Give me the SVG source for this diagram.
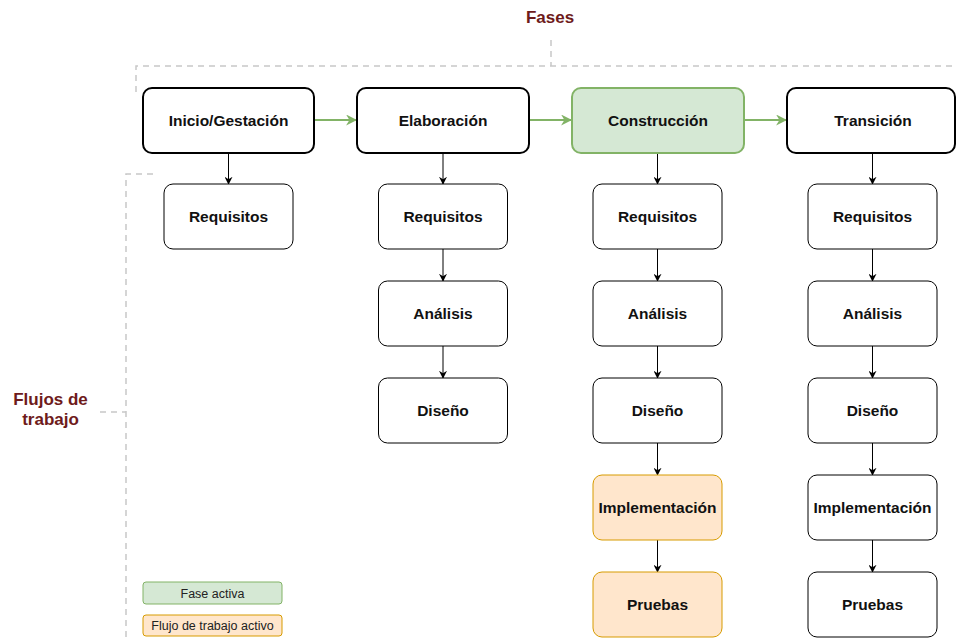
<svg xmlns="http://www.w3.org/2000/svg" width="956" height="639" viewBox="0 0 956 639">
<defs>
<style>
.ph{fill:#fff;stroke:#000;stroke-width:2}
.wf{fill:#fff;stroke:#000;stroke-width:1}
.act{fill:#d5e8d4;stroke:#82b366;stroke-width:2}
.wact{fill:#ffe6cc;stroke:#d79b00;stroke-width:1}
.t{font-family:"Liberation Sans",Arial,sans-serif;font-weight:bold;font-size:15.5px;fill:#111;text-anchor:middle}
.lbl{font-family:"Liberation Sans",Arial,sans-serif;font-weight:bold;font-size:17px;fill:#6e1b1b;text-anchor:middle}
.lg{font-family:"Liberation Sans",Arial,sans-serif;font-size:12.5px;fill:#222;text-anchor:middle}
.dash{fill:none;stroke:#c8c8c8;stroke-width:1.5;stroke-dasharray:6 5}
.blk{fill:none;stroke:#000;stroke-width:1;marker-end:url(#ab)}
.grn{fill:none;stroke:#82b366;stroke-width:2;marker-end:url(#ag)}
</style>
<marker id="ab" viewBox="0 0 10 10" refX="9" refY="5" markerWidth="8" markerHeight="8" markerUnits="userSpaceOnUse" orient="auto"><path d="M0,0 L10,5 L0,10 L3,5 Z" fill="#000"/></marker>
<marker id="ag" viewBox="0 0 10 10" refX="9" refY="5" markerWidth="11" markerHeight="11" markerUnits="userSpaceOnUse" orient="auto"><path d="M0,0 L10,5 L0,10 L3,5 Z" fill="#82b366"/></marker>
</defs>
<rect width="956" height="639" fill="#fff"/>
<g id="guides">
<path class="dash" d="M136,92 V66 H956 M551,40 V66"/>
<path class="dash" d="M153,174 H126 V639 M100,412 H126"/>
</g>
<g id="labels">
<text class="lbl" x="550" y="23">Fases</text>
<text class="lbl" x="50.5" y="405">Flujos de</text>
<text class="lbl" x="50.5" y="425">trabajo</text>
</g>
<g id="connectors">
<path class="grn" d="M314,120 H356"/>
<path class="grn" d="M530,120 H571"/>
<path class="grn" d="M744,120 H786"/>
<path class="blk" d="M228.5,153 V184"/>
<path class="blk" d="M443,153 V184"/>
<path class="blk" d="M443,249 V281"/>
<path class="blk" d="M443,346 V378"/>
<path class="blk" d="M657.5,153 V184"/>
<path class="blk" d="M657.5,249 V281"/>
<path class="blk" d="M657.5,346 V378"/>
<path class="blk" d="M657.5,443 V475"/>
<path class="blk" d="M657.5,540 V572"/>
<path class="blk" d="M872.5,153 V184"/>
<path class="blk" d="M872.5,249 V281"/>
<path class="blk" d="M872.5,346 V378"/>
<path class="blk" d="M872.5,443 V475"/>
<path class="blk" d="M872.5,540 V572"/>
</g>
<g id="p1"><rect class="ph" x="143" y="88" width="171" height="65" rx="9"/><text class="t" x="228.5" y="126">Inicio/Gestación</text></g>
<g id="p2"><rect class="ph" x="357" y="88" width="172" height="65" rx="9"/><text class="t" x="443" y="126">Elaboración</text></g>
<g id="p3"><rect class="act" x="572" y="88" width="172" height="65" rx="9"/><text class="t" x="658" y="126">Construcción</text></g>
<g id="p4"><rect class="ph" x="787" y="88" width="168" height="65" rx="9"/><text class="t" x="873" y="126">Transición</text></g>

<g id="c1r"><rect class="wf" x="164" y="184" width="129" height="65" rx="9"/><text class="t" x="228.5" y="222">Requisitos</text></g>

<g id="c2r"><rect class="wf" x="378.5" y="184" width="129" height="65" rx="9"/><text class="t" x="443" y="222">Requisitos</text></g>
<g id="c2a"><rect class="wf" x="378.5" y="281" width="129" height="65" rx="9"/><text class="t" x="443" y="319">Análisis</text></g>
<g id="c2d"><rect class="wf" x="378.5" y="378" width="129" height="65" rx="9"/><text class="t" x="443" y="416">Diseño</text></g>

<g id="c3r"><rect class="wf" x="593" y="184" width="129" height="65" rx="9"/><text class="t" x="657.5" y="222">Requisitos</text></g>
<g id="c3a"><rect class="wf" x="593" y="281" width="129" height="65" rx="9"/><text class="t" x="657.5" y="319">Análisis</text></g>
<g id="c3d"><rect class="wf" x="593" y="378" width="129" height="65" rx="9"/><text class="t" x="657.5" y="416">Diseño</text></g>
<g id="c3i"><rect class="wact" x="593" y="475" width="129" height="65" rx="9"/><text class="t" x="657.5" y="513">Implementación</text></g>
<g id="c3p"><rect class="wact" x="593" y="572" width="129" height="65" rx="9"/><text class="t" x="657.5" y="610">Pruebas</text></g>

<g id="c4r"><rect class="wf" x="808" y="184" width="129" height="65" rx="9"/><text class="t" x="872.5" y="222">Requisitos</text></g>
<g id="c4a"><rect class="wf" x="808" y="281" width="129" height="65" rx="9"/><text class="t" x="872.5" y="319">Análisis</text></g>
<g id="c4d"><rect class="wf" x="808" y="378" width="129" height="65" rx="9"/><text class="t" x="872.5" y="416">Diseño</text></g>
<g id="c4i"><rect class="wf" x="808" y="475" width="129" height="65" rx="9"/><text class="t" x="872.5" y="513">Implementación</text></g>
<g id="c4p"><rect class="wf" x="808" y="572" width="129" height="65" rx="9"/><text class="t" x="872.5" y="610">Pruebas</text></g>

<g id="legend1"><rect fill="#d5e8d4" stroke="#82b366" x="143" y="582" width="139" height="22" rx="3"/><text class="lg" x="212.5" y="597.5">Fase activa</text></g>
<g id="legend2"><rect fill="#ffe6cc" stroke="#d79b00" x="143" y="615" width="139" height="21" rx="3"/><text class="lg" x="212.5" y="630">Flujo de trabajo activo</text></g>
</svg>
